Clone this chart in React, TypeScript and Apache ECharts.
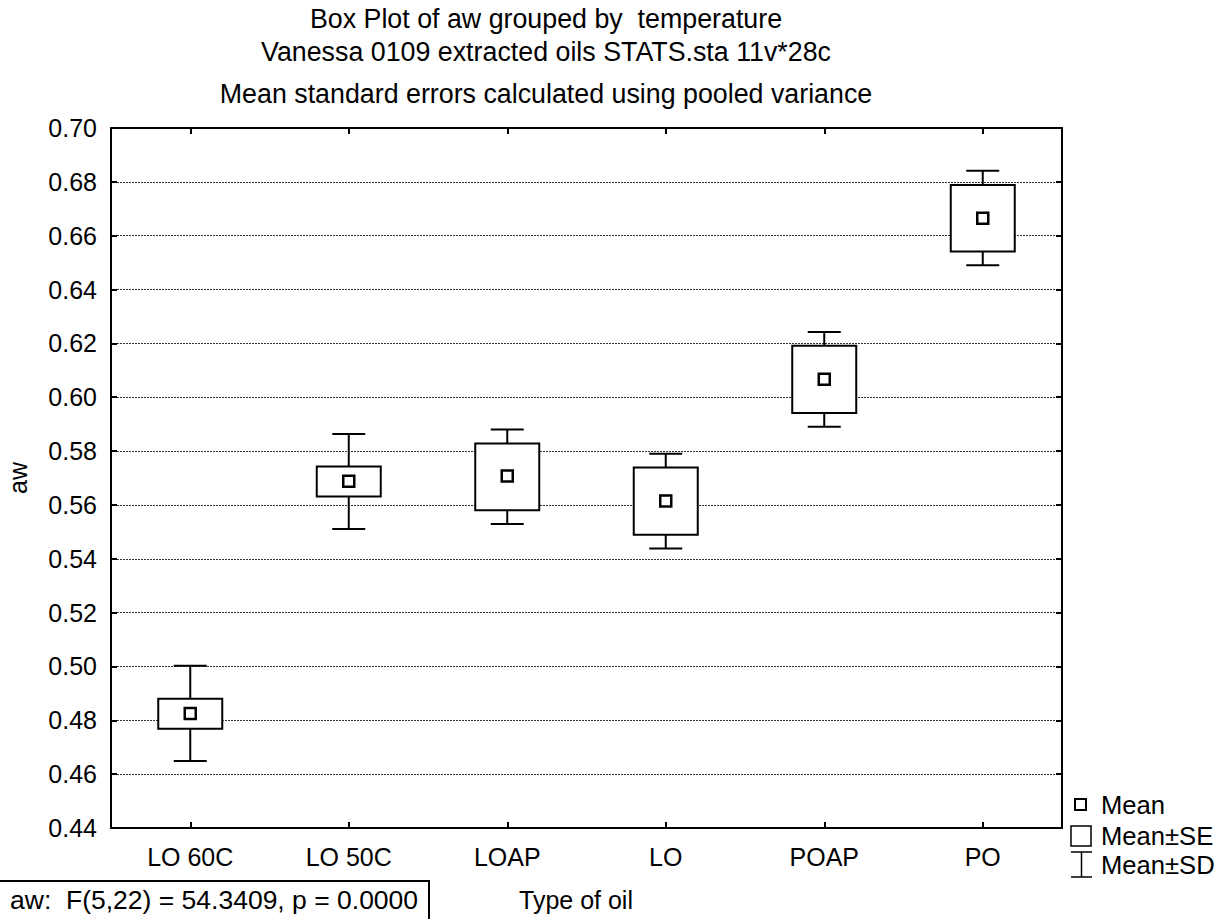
import React, { useEffect, useRef } from "react";
import * as echarts from "echarts";

const categories = ["LO 60C", "LO 50C", "LOAP", "LO", "POAP", "PO"];
const means = [0.4825, 0.5688, 0.5707, 0.5615, 0.6067, 0.6665];
const seLow = [0.4769, 0.5631, 0.5580, 0.5489, 0.5941, 0.6541];
const seHigh = [0.4880, 0.5743, 0.5828, 0.5739, 0.6191, 0.6788];
const sdLow = [0.4649, 0.5511, 0.5529, 0.5438, 0.5890, 0.6490];
const sdHigh = [0.5003, 0.5863, 0.5880, 0.5790, 0.6242, 0.6841];

const titleLines = [
  "Box Plot of aw grouped by  temperature",
  "Vanessa 0109 extracted oils STATS.sta 11v*28c",
  "Mean standard errors calculated using pooled variance",
];
const statText = "aw:  F(5,22) = 54.3409, p = 0.0000";
const xName = "Type of oil";
const yName = "aw";
const legendLabels = ["Mean", "Mean±SE", "Mean±SD"];

const FONT = "'Liberation Sans', Arial, sans-serif";
const FS = 25;
const FS_TITLE = 26.8;
const FS_STAT = 26.5;
const FS_LEG = 25.6;

export default function App() {
  const ref = useRef<HTMLDivElement>(null);
  useEffect(() => {
    if (!ref.current) return;
    const chart = echarts.init(ref.current, null, { renderer: "svg" });
    const data = categories.map((c, i) => [i, means[i], seLow[i], seHigh[i], sdLow[i], sdHigh[i]]);
    const renderItem = (params: any, api: any) => {
      const i = api.value(0);
      const pm = api.coord([i, api.value(1)]);
      const pseL = api.coord([i, api.value(2)]);
      const pseH = api.coord([i, api.value(3)]);
      const psdL = api.coord([i, api.value(4)]);
      const psdH = api.coord([i, api.value(5)]);
      const x = pm[0];
      const bw = 64;
      const cw = 33;
      const ms = 11;
      const ls = { stroke: "#000", lineWidth: 2, fill: "none" };
      return {
        type: "group",
        children: [
          { type: "line", shape: { x1: x, y1: psdH[1], x2: x, y2: pseH[1] }, style: ls },
          { type: "line", shape: { x1: x, y1: pseL[1], x2: x, y2: psdL[1] }, style: ls },
          { type: "line", shape: { x1: x - cw / 2, y1: psdH[1], x2: x + cw / 2, y2: psdH[1] }, style: ls },
          { type: "line", shape: { x1: x - cw / 2, y1: psdL[1], x2: x + cw / 2, y2: psdL[1] }, style: ls },
          {
            type: "rect",
            shape: { x: x - bw / 2, y: pseH[1], width: bw, height: pseL[1] - pseH[1] },
            style: { stroke: "#000", lineWidth: 2, fill: "#fff" },
          },
          {
            type: "rect",
            shape: { x: x - ms / 2, y: pm[1] - ms / 2, width: ms, height: ms },
            style: { stroke: "#000", lineWidth: 2.5, fill: "#fff" },
          },
        ],
      };
    };
    const axisLine = { show: true, lineStyle: { color: "#000", width: 2 } };
    const option: any = {
      animation: false,
      backgroundColor: "#fff",
      textStyle: { fontFamily: FONT },
      grid: { left: 111, top: 128, right: 168, bottom: 91, containLabel: false },
      xAxis: [
        {
          type: "category",
          data: categories,
          position: "bottom",
          axisLine,
          axisTick: { show: true, inside: true, alignWithLabel: true, length: 6, lineStyle: { color: "#000", width: 2 } },
          axisLabel: { color: "#000", fontSize: FS, fontFamily: FONT, margin: 16 },
          splitLine: { show: false },
        },
        {
          type: "category",
          data: categories,
          position: "top",
          axisLine,
          axisTick: { show: true, inside: true, alignWithLabel: true, length: 6, lineStyle: { color: "#000", width: 2 } },
          axisLabel: { show: false },
          splitLine: { show: false },
        },
      ],
      yAxis: [
        {
          type: "value",
          min: 0.44,
          max: 0.7,
          interval: 0.02,
          position: "left",
          axisLine,
          axisTick: { show: true, inside: true, length: 6, lineStyle: { color: "#000", width: 2 } },
          axisLabel: {
            color: "#000",
            fontSize: FS,
            fontFamily: FONT,
            margin: 14,
            formatter: (v: number) => v.toFixed(2),
          },
          splitLine: { show: true, lineStyle: { color: "#333", width: 1, type: [2, 1] } },
        },
        {
          type: "value",
          min: 0.44,
          max: 0.7,
          interval: 0.02,
          position: "right",
          axisLine,
          axisTick: { show: true, inside: true, length: 6, lineStyle: { color: "#000", width: 2 } },
          axisLabel: { show: false },
          splitLine: { show: false },
        },
      ],
      series: [
        {
          type: "custom",
          xAxisIndex: 0,
          yAxisIndex: 0,
          renderItem,
          encode: { x: 0, y: [1, 2, 3, 4, 5] },
          data,
          z: 5,
        },
      ],
      graphic: [
        ...titleLines.map((t, k) => ({
          type: "text",
          x: 546,
          y: [19, 52, 94][k],
          style: { text: t, fontSize: FS_TITLE, fontFamily: FONT, fill: "#000", textAlign: "center", textVerticalAlign: "middle" },
        })),
        {
          type: "text",
          x: 18,
          y: 478,
          rotation: Math.PI / 2,
          style: { text: yName, fontSize: FS, fontFamily: FONT, fill: "#000", textAlign: "center", textVerticalAlign: "middle" },
        },
        {
          type: "text",
          x: 519,
          y: 900,
          style: { text: xName, fontSize: FS, fontFamily: FONT, fill: "#000", textAlign: "left", textVerticalAlign: "middle" },
        },
        {
          type: "rect",
          shape: { x: -2, y: 881, width: 431, height: 45 },
          style: { stroke: "#000", lineWidth: 2, fill: "#fff" },
        },
        {
          type: "text",
          x: 10,
          y: 900,
          style: { text: statText, fontSize: FS_STAT, fontFamily: FONT, fill: "#000", textAlign: "left", textVerticalAlign: "middle" },
        },
        {
          type: "rect",
          shape: { x: 1075, y: 799, width: 11, height: 11 },
          style: { stroke: "#000", lineWidth: 2, fill: "#fff" },
        },
        {
          type: "rect",
          shape: { x: 1071, y: 826, width: 20, height: 20 },
          style: { stroke: "#000", lineWidth: 1.5, fill: "#fff" },
        },
        { type: "line", shape: { x1: 1071, y1: 852, x2: 1092, y2: 852 }, style: { stroke: "#000", lineWidth: 1.5 } },
        { type: "line", shape: { x1: 1071, y1: 877, x2: 1092, y2: 877 }, style: { stroke: "#000", lineWidth: 1.5 } },
        { type: "line", shape: { x1: 1081.5, y1: 852, x2: 1081.5, y2: 877 }, style: { stroke: "#000", lineWidth: 1.5 } },
        ...legendLabels.map((t, k) => ({
          type: "text",
          x: 1101,
          y: [805, 836, 865][k],
          style: { text: t, fontSize: FS_LEG, fontFamily: FONT, fill: "#000", textAlign: "left", textVerticalAlign: "middle" },
        })),
      ],
    };
    chart.setOption(option);
    return () => chart.dispose();
  }, []);
  return (
    <div
      ref={ref}
      style={{ position: "absolute", left: 0, top: 0, width: 1230, height: 919, background: "#fff" }}
    />
  );
}
